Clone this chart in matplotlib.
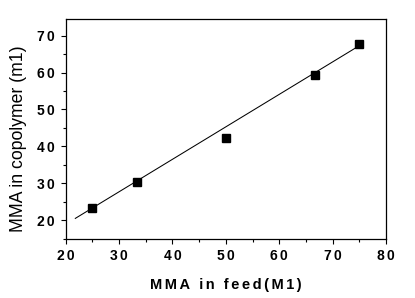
import numpy as np
import matplotlib
matplotlib.use("Agg")
import matplotlib.pyplot as plt

# data
feed_m1 = [25.0, 33.3, 50.0, 66.7, 75.0]
copolymer_m1 = [23.2, 30.4, 42.4, 59.4, 67.6]

# linear fit line endpoints
fit_x = [21.8, 74.8]
fit_y = [20.5, 67.1]

x_ticks = [20, 30, 40, 50, 60, 70, 80]
y_ticks = [20, 30, 40, 50, 60, 70]

plt.rcParams['font.family'] = ['Liberation Sans', 'DejaVu Sans']

sp = "\u200a\u200a"  # two hair spaces, for the spread-out lettering


def spread(s):
    return sp.join(s)


fig = plt.figure(figsize=(4.15, 2.98), dpi=100)
ax = fig.add_axes([65.7 / 415, 1 - 238.7 / 298, (386 - 65.7) / 415, (238.7 - 19) / 298])

ax.plot(fit_x, fit_y, color='black', linewidth=0.75)
ax.plot(feed_m1, copolymer_m1, 's', color='black', markersize=5.3)

ax.set_xlim(20, 80)
ax.set_ylim(15.3, 74.5)
ax.set_xticks(x_ticks)
ax.set_yticks(y_ticks)
ax.set_xticks(np.arange(25, 80, 10), minor=True)
ax.set_yticks(np.arange(15, 75, 10), minor=True)
ax.set_xticklabels([spread(str(t)) for t in x_ticks], fontweight='bold', fontsize=10)
ax.set_yticklabels([spread(str(t)) for t in y_ticks], fontweight='bold', fontsize=10)
ax.tick_params(which='major', direction='out', length=3.7, width=0.8)
ax.tick_params(which='minor', direction='out', length=2, width=0.8)
ax.tick_params(axis='x', pad=3.5)
ax.tick_params(axis='y', pad=4)
for s in ax.spines.values():
    s.set_linewidth(0.9)

ax.set_xlabel(spread("MMA in feed(M1)"), fontweight='bold', fontsize=10.5, labelpad=11)
ax.set_ylabel("MMA in copolymer (m1)", fontsize=12.7)
ax.yaxis.set_label_coords(-0.121, 0.454)

fig.savefig("out.png", dpi=100)
